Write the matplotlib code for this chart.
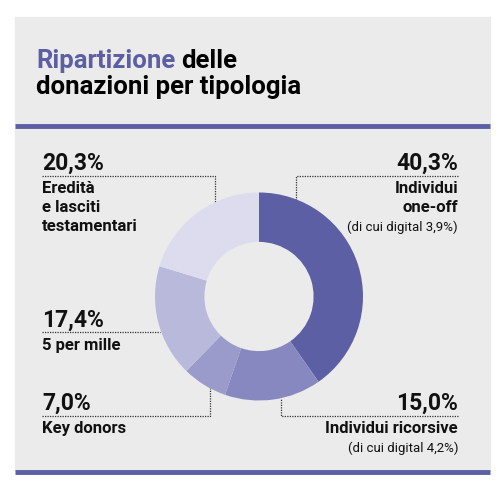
import matplotlib.pyplot as plt
import matplotlib.patches as mpatches

# donation shares, clockwise from 12 o'clock
categories = ["Individui one-off", "Individui ricorsive", "Key donors",
              "5 per mille", "Eredità e lasciti testamentari"]
values = [40.3, 15.0, 7.0, 17.4, 20.3]
pct_labels = ["40,3%", "15,0%", "7,0%", "17,4%", "20,3%"]
name_lines = [["Individui", "one-off"], ["Individui ricorsive"], ["Key donors"],
              ["5 per mille"], ["Eredità", "e lasciti", "testamentari"]]
notes = ["(di cui digital 3,9%)", "(di cui digital 4,2%)", "", "", ""]
colors = ["#5c5fa3", "#8788bf", "#9b9bcb", "#b9b9dc", "#dcdcee"]

W, H = 504, 493
BG = "#ebebeb"
PURPLE = "#5c5fa3"
COND = ["Roboto", "DejaVu Sans"]

fig = plt.figure(figsize=(W / 100, H / 100), dpi=100)
fig.patch.set_facecolor("white")

# pixel axes for panel, text and leader lines
ax = fig.add_axes([0, 0, 1, 1])
ax.set_xlim(0, W)
ax.set_ylim(H, 0)
ax.axis("off")

ax.add_patch(mpatches.Rectangle((15, 17), 475, 454, color=BG, zorder=0))
ax.plot([15, 490], [125.5, 125.5], color=PURPLE, lw=3.5, solid_capstyle="butt")
ax.plot([15, 490], [471.5, 471.5], color=PURPLE, lw=3.5, solid_capstyle="butt")

# title
t1 = ax.text(36, 68, "Ripartizione", color=PURPLE, fontsize=18.5,
             fontweight="bold", family="Roboto", va="baseline")
fig.canvas.draw()
bb = t1.get_window_extent()
x_end = bb.x1 + 6
ax.text(x_end, 68, "delle", color="black", fontsize=18.5, fontweight="bold",
        family="Roboto", va="baseline")
ax.text(36, 94, "donazioni per tipologia", color="black", fontsize=18.5,
        fontweight="bold", family="Roboto", va="baseline")

# label layout: (x, baseline of percentage, alignment)
layout = [
    (458, 170, "right"),
    (458, 410, "right"),
    (42, 410, "left"),
    (42, 327, "left"),
    (42, 170, "left"),
]
for (x, y, ha), pct, lines, note in zip(layout, pct_labels, name_lines, notes):
    ax.text(x, y, pct, fontsize=16.5, fontweight="bold", family=COND,
            ha=ha, va="baseline", color="#111111")
    yy = y + 23
    for ln in lines:
        ax.text(x, yy, ln, fontsize=12, fontweight="bold", family=COND,
                ha=ha, va="baseline", color="#111111")
        yy += 19
    if note:
        ax.text(x, yy, note, fontsize=9.5, family=COND, ha=ha,
                va="baseline", color="#111111")

# dotted leader lines
dot = dict(color="#333333", lw=0.9, ls=(0, (1, 1)))
ax.plot([42, 215, 215], [175.5, 175.5, 202], **dot)
ax.plot([458, 296, 296], [175.5, 175.5, 203], **dot)
ax.plot([42, 160], [332, 332], **dot)
ax.plot([42, 210, 210], [416, 416, 388], **dot)
ax.plot([458, 281, 281], [416, 416, 398], **dot)

# donut
cx, cy, r = 259, 296.5, 104
pax = fig.add_axes([(cx - r) / W, (H - cy - r) / H, 2 * r / W, 2 * r / H])
pax.pie(values, colors=colors, startangle=90, counterclock=False, radius=1,
        wedgeprops=dict(width=0.475, linewidth=0))
pax.set_xlim(-1, 1)
pax.set_ylim(-1, 1)
pax.axis("off")

fig.savefig("out.png", dpi=100, facecolor="white")
